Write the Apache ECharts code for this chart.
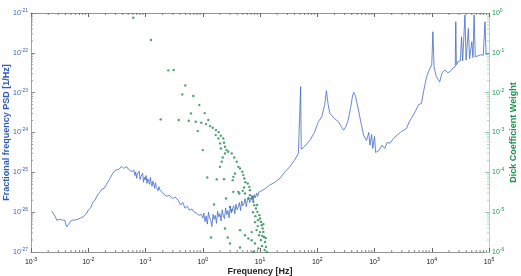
<!DOCTYPE html>
<html>
<head>
    <meta http-equiv="Content-Type" content="text/html; charset=utf-8">
    <title>PSD and Dick coefficients</title>
    <script src="https://cdn.jsdelivr.net/npm/echarts@6/dist/echarts.min.js"></script>
    <style>
        body {margin:0;background:#fff;}
    </style>
</head>
<body>
    <div id="main" style="width: 521px;height:276px;"></div>
    <script type="text/javascript">
        var psdLogFreq = [-2.64,-2.58,-2.55,-2.5,-2.45,-2.41,-2.38,-2.34,-2.29,-2.24,-2.18,-2.14,-2.09,-2.04,-2.0,-1.96,-1.92,-1.88,-1.85,-1.8,-1.76,-1.72,-1.68,-1.64,-1.6,-1.57,-1.53,-1.5,-1.46,-1.42,-1.38,-1.33,-1.3,-1.27,-1.24,
            -1.2,-1.185,-1.17,-1.155,-1.14,-1.125,-1.11,-1.095,-1.08,-1.065,-1.05,-1.035,-1.02,-1.005,-0.99,-0.975,-0.96,-0.945,-0.93,-0.915,-0.9,-0.885,-0.87,-0.855,-0.84,-0.825,-0.81,-0.795,-0.78,-0.765,-0.75,-0.73,
            -0.68,-0.63,-0.58,-0.53,-0.48,-0.43,-0.39,-0.35,-0.31,-0.27,-0.23,-0.19,-0.15,-0.11,-0.07,-0.03,
            0.0,0.02,0.04,0.06,0.08,0.1,0.12,0.14,0.16,0.18,0.2,0.22,0.24,0.26,0.28,0.3,0.32,0.34,0.36,0.38,0.4,0.42,0.44,0.46,0.48,0.5,0.52,0.54,0.56,0.58,0.6,0.62,0.64,0.66,0.68,0.7,0.72,0.74,0.76,0.78,0.8,0.82,0.84,0.86,0.88,0.9,0.92,0.94,0.96,0.98,1.0,
            1.08,1.17,1.26,1.35,1.43,1.52,1.6,1.67,1.7,1.71,1.72,1.78,1.87,1.95,2.02,2.08,2.13,2.16,2.19,2.22,2.3,2.37,2.42,2.46,2.5,2.54,2.58,2.62,2.64,2.67,2.72,2.77,2.81,2.86,2.9,2.92,2.95,2.97,3.0,3.02,3.04,3.08,3.13,3.18,3.22,3.27,3.33,3.39,3.45,3.5,3.56,3.6,3.64,3.68,3.72,3.77,3.82,3.86,3.91,3.95,4.0,4.02,4.04,4.08,4.14,4.18,4.23,4.28,4.32,4.37,4.41,4.42,4.43,4.46,4.5,4.52,4.54,4.57,4.58,4.6,4.64,4.66,4.7,4.72,4.74,4.76,4.8,4.85,4.9,4.93,4.95,5.0];
        var psdLogValue = [-25.97,-26.1,-26.2,-26.18,-26.2,-26.2,-26.37,-26.3,-26.2,-26.2,-26.18,-26.15,-26.12,-26.05,-25.95,-25.9,-25.75,-25.7,-25.6,-25.5,-25.42,-25.4,-25.3,-25.2,-25.1,-25.02,-24.95,-24.9,-24.92,-24.85,-24.9,-24.86,-24.92,-24.88,-24.98,
            -24.95,-25.08,-24.99,-25.15,-25.04,-25.06,-24.97,-25.18,-25.1,-25.14,-25.02,-25.25,-25.12,-25.19,-25.08,-25.28,-25.16,-25.22,-25.3,-25.13,-25.27,-25.35,-25.22,-25.3,-25.4,-25.26,-25.38,-25.33,-25.46,-25.36,-25.44,-25.48,
            -25.55,-25.6,-25.58,-25.66,-25.62,-25.7,-25.82,-25.75,-25.9,-25.85,-25.95,-25.92,-26.0,-26.02,-26.08,-26.05,
            -26.15,-26.02,-26.24,-26.1,-26.3,-26.0,-26.14,-26.2,-26.36,-26.05,-26.18,-26.08,-26.28,-25.98,-26.12,-26.04,-26.22,-25.94,-26.1,-26.16,-25.9,-26.06,-25.96,-26.14,-25.86,-26.02,-25.92,-25.84,-26.04,-25.8,-25.94,-25.86,-25.76,-25.96,-25.72,-25.84,-25.78,-25.66,-25.86,-25.7,-25.62,-25.76,-25.66,-25.58,-25.72,-25.56,-25.64,-25.52,-25.6,-25.5,-25.49,
            -25.42,-25.32,-25.25,-25.15,-25.0,-24.86,-24.7,-24.53,-24.48,-22.85,-24.42,-24.35,-24.2,-24.0,-23.73,-23.6,-23.3,-22.95,-23.3,-23.52,-23.65,-23.73,-23.85,-23.94,-23.85,-23.69,-23.4,-23.05,-22.99,-23.1,-23.44,-23.8,-24.07,-24.2,-24.0,-24.32,-24.05,-24.4,-24.1,-24.5,-24.53,-24.45,-24.32,-24.4,-24.25,-24.27,-24.15,-24.07,-24.0,-23.95,-23.9,-23.75,-23.65,-23.56,-23.45,-23.3,-23.27,-22.95,-22.6,-22.45,-22.3,-21.47,-22.35,-22.6,-22.73,-22.5,-22.43,-22.5,-22.47,-22.38,-22.35,-21.22,-22.3,-22.22,-22.2,-21.6,-22.2,-22.15,-21.05,-22.18,-21.39,-22.15,-21.72,-22.12,-21.05,-22.1,-22.08,-22.05,-22.06,-21.22,-22.04,-22.01];

        var dickLogFreq = [-1.213,-0.904,-0.602,-0.507,-0.305,-0.357,-0.165,-0.06,-0.205,0.034,-0.735,-0.42,-0.245,-0.123,-0.025,0.097,0.057,0.127,0.174,0.231,0.279,-0.088,0.226,0.314,0.359,
            0.0,0.371,0.389,0.418,0.446,0.389,0.506,0.348,0.551,0.331,0.593,0.301,0.621,0.651,0.563,0.534,0.523,0.691,0.708,0.726,0.743,0.785,0.721,0.698,0.813,0.825,
            0.079,0.244,0.371,0.534,0.406,0.638,0.796,0.883,0.197,0.506,0.436,0.144,0.621,0.738,0.825,0.855,0.883,0.9,0.93,0.953,0.988,1.0,1.017,1.03,1.047,1.058,1.07,1.087,1.105,1.117,
            0.878,0.914,0.939,0.965,0.983,1.017,1.035,0.95,0.476,0.389,0.476,0.651,0.738,0.796,0.855,0.883,0.913,0.971,0.651,0.855,0.272,0.301,0.318,0.96,1.0,1.04,1.08,0.92,1.06,1.1];
        var dickLogWeight = [-0.118,-0.678,-1.44,-1.432,-1.817,-2.043,-2.085,-2.312,-2.52,-2.513,-2.671,-2.688,-2.706,-2.731,-2.756,-2.688,-2.789,-2.839,-2.882,-2.94,-2.99,-2.965,-3.065,-3.083,-3.148,
            -3.442,-3.259,-3.359,-3.442,-3.485,-3.525,-3.525,-3.626,-3.626,-3.736,-3.736,-3.862,-3.862,-3.902,-4.028,-4.113,-4.196,-3.987,-4.07,-4.153,-4.246,-4.279,-4.379,-4.465,-4.364,-4.447,
            -4.128,-4.178,-4.171,-4.49,-4.656,-4.53,-4.656,-4.616,-4.807,-4.95,-5.636,-5.636,-4.49,-4.53,-4.573,-4.656,-4.741,-4.824,-4.907,-4.992,-5.075,-5.158,-5.244,-5.327,-5.41,-5.495,-5.621,-5.746,-5.872,-5.997,
            -5.0,-5.25,-5.45,-5.2,-5.58,-5.7,-5.85,-4.82,-4.867,-5.41,-5.786,-5.452,-5.578,-5.661,-5.704,-5.997,-5.786,-5.912,-5.887,-5.5,-3.148,-3.274,-3.4,-5.35,-5.5,-5.6,-5.95,-5.1,-5.3,-5.65];

        var minorSteps = [2,3,4,5,6,7,8,9];
        var xDecades = [-3,-2,-1,0,1,2,3,4];
        var yDecades = [-27,-26,-25,-24,-23,-22];

        var font = 'Liberation Sans';
        var blue = '#2f5db4';
        var green = '#1c9450';

        var psdData = psdLogFreq.map(function(f, i){ return [f, psdLogValue[i]]; });
        var dickData = dickLogFreq.map(function(f, i){ return [f, dickLogWeight[i]]; });

        // minor tick marks for the decade axes (kind 0 = x, kind 1 = y)
        var minorData = [];
        xDecades.forEach(function(d){ minorSteps.forEach(function(k){ minorData.push([d + Math.log10(k), -27, 0]); }); });
        yDecades.forEach(function(d){ minorSteps.forEach(function(k){ minorData.push([-3, d + Math.log10(k), 1]); }); });

        function powLabel(v){
            return '{b|10}{s|' + Math.round(v) + '}';
        }
        function rich(color){
            return {
                b: {fontSize: 7, color: color, fontFamily: font},
                s: {fontSize: 5, color: color, fontFamily: font, padding: [0,0,5,0]}
            };
        }

        var myChart = echarts.init(document.getElementById('main'));
        var option = {
            animation: false,
            textStyle: {fontFamily: font},
            grid: {left: 31, right: 32, top: 13, bottom: 24, containLabel: false, outerBoundsMode: 'none'},
            xAxis: [{
                type: 'value', min: -3, max: 5, interval: 1,
                name: 'Frequency [Hz]', nameLocation: 'middle', nameGap: 15, nameMoveOverlap: false,
                nameTextStyle: {fontSize: 9, fontWeight: 'bold', color: '#222'},
                axisLine: {onZero: false, lineStyle: {color: '#777', width: 0.8}},
                axisTick: {inside: true, length: 4, lineStyle: {color: '#666'}},
                axisLabel: {formatter: powLabel, rich: rich('#111'), margin: 5},
                splitLine: {show: false}
            }, {
                type: 'value', min: -3, max: 5, interval: 1, position: 'top',
                axisLine: {onZero: false, lineStyle: {color: '#777', width: 0.8}},
                axisTick: {inside: true, length: 4, lineStyle: {color: '#666'}},
                axisLabel: {show: false},
                splitLine: {show: false}
            }],
            yAxis: [{
                type: 'value', min: -27, max: -21, interval: 1, position: 'left',
                name: 'Fractional frequency PSD [1/Hz]', nameLocation: 'middle', nameGap: 20, nameMoveOverlap: false,
                nameTextStyle: {fontSize: 9, fontWeight: 'bold', color: blue},
                axisLine: {show: true, onZero: false, lineStyle: {color: '#888', width: 0.8}},
                axisTick: {inside: true, length: 4, lineStyle: {color: '#888'}},
                axisLabel: {formatter: powLabel, rich: rich(blue), margin: 3},
                splitLine: {show: false}
            }, {
                type: 'value', min: -6, max: 0, interval: 1, position: 'right',
                name: 'Dick Coefficient Weight', nameLocation: 'middle', nameGap: 20, nameMoveOverlap: false,
                nameTextStyle: {fontSize: 9, fontWeight: 'bold', color: green},
                axisLine: {show: true, onZero: false, lineStyle: {color: '#8fd0aa', width: 0.8}},
                axisTick: {inside: true, length: 4, lineStyle: {color: '#8fd0aa'}},
                axisLabel: {formatter: powLabel, rich: rich(green), margin: 3},
                splitLine: {show: false}
            }],
            series: [{
                name: 'PSD', type: 'line', xAxisIndex: 0, yAxisIndex: 0,
                data: psdData, showSymbol: false, symbol: 'none',
                lineStyle: {color: '#4369c6', width: 0.8}
            }, {
                name: 'Dick', type: 'scatter', xAxisIndex: 0, yAxisIndex: 1,
                data: dickData, symbolSize: 2.4,
                itemStyle: {color: '#1f8a4c'}
            }, {
                type: 'custom', xAxisIndex: 0, yAxisIndex: 0, clip: false, silent: true,
                data: minorData,
                renderItem: function(params, api){
                    var kind = api.value(2);
                    if (kind === 0) {
                        var b = api.coord([api.value(0), -27]);
                        var t = api.coord([api.value(0), -21]);
                        return {type: 'group', children: [
                            {type: 'line', shape: {x1: b[0], y1: b[1], x2: b[0], y2: b[1]-2}, style: {stroke: '#666', lineWidth: 0.8}},
                            {type: 'line', shape: {x1: t[0], y1: t[1], x2: t[0], y2: t[1]+2}, style: {stroke: '#666', lineWidth: 0.8}}
                        ]};
                    }
                    var l = api.coord([-3, api.value(1)]);
                    var r = api.coord([5, api.value(1)]);
                    return {type: 'group', children: [
                        {type: 'line', shape: {x1: l[0], y1: l[1], x2: l[0]+2, y2: l[1]}, style: {stroke: '#888', lineWidth: 0.8}},
                        {type: 'line', shape: {x1: r[0], y1: r[1], x2: r[0]-2, y2: r[1]}, style: {stroke: '#8fd0aa', lineWidth: 0.8}}
                    ]};
                }
            }]
        };
        myChart.setOption(option);
    </script>
</body>
</html>
